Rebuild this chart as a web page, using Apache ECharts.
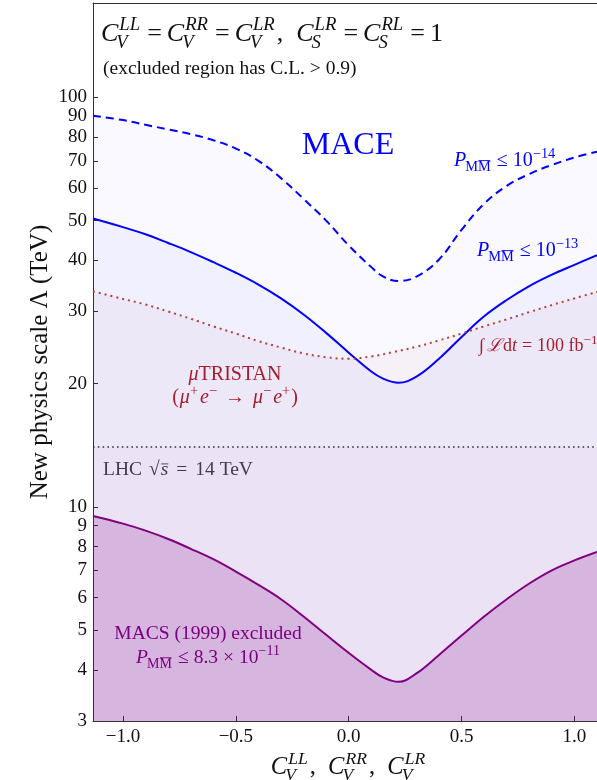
<!DOCTYPE html>
<html><head><meta charset="utf-8">
<script src="https://cdn.jsdelivr.net/npm/echarts@6/dist/echarts.min.js"></script>
<style>html,body{margin:0;padding:0;background:#fff}#c{width:597px;height:780px}</style>
</head><body><div id="c"></div>
<script>
// ---- data ----
const xCoupling = [-1.133,-1.0,-0.9,-0.8,-0.7,-0.6,-0.5,-0.4,-0.3,-0.2,-0.1,0.0,0.1,0.15,0.22,0.3,0.4,0.5,0.6,0.7,0.8,0.9,1.0,1.1];
const maceP14 = [90.2,88,85.7,83.5,81.3,78.6,75,70,63.5,56.5,50,43.5,38.5,36.6,35.6,36.5,40.2,47.5,55,60.8,65,68.4,71.3,73.7];
const maceP13 = [50.6,48.2,46.3,44.1,41.9,39.6,37.3,34.9,32.3,29.5,26.6,23.8,21.4,20.6,20.1,20.8,23,26,29.2,32,34.6,36.9,39,41.2];
const macsLimit = [9.5,9.1,8.75,8.35,7.9,7.45,6.95,6.45,5.95,5.4,4.87,4.4,4.0,3.84,3.74,3.92,4.35,4.85,5.4,5.95,6.5,7.0,7.4,7.76];
const xTristan = [-1.133,-1.0,-0.9,-0.8,-0.7,-0.6,-0.5,-0.4,-0.3,-0.2,-0.1,0.0,0.1,0.2,0.3,0.4,0.5,0.6,0.7,0.8,0.9,1.0,1.1];
const muTristan = [33.6,32.2,31.2,30.0,28.8,27.6,26.5,25.4,24.5,23.7,23.2,23.0,23.3,23.9,24.6,25.5,26.5,27.6,28.7,29.9,31.1,32.3,33.5];
const lhcScale = 14;
const xTicks = [-1.0,-0.5,0.0,0.5,1.0];
const yTicks = [3,4,5,6,7,8,9,10,20,30,40,50,60,70,80,90,100];
const yLabelsA = [3,4,5,6,7,8,9,10,20,30,40,50,60,70,80,100];
const yLabelsB = [90];
const X_MIN = -1.133, X_MAX = 1.1, Y_MIN = 3, Y_MAX = 170;

const zip = (xs, ys) => xs.map((x, i) => [x, ys[i]]);
const FAM = '"Liberation Serif","Times New Roman",serif';

// ---- math text helper ----
const mctx = document.createElement('canvas').getContext('2d');
function fstr(size, it){ return (it ? 'italic ' : '') + size + 'px ' + FAM; }
function tw(t, f){ mctx.font = f; return mctx.measureText(t).width; }
function mathText(x, base, tokens, fs, color, anchor, ratio){
  const sfs = Math.round(fs * (ratio || 0.72) * 10) / 10;
  const items = []; let cx = 0;
  tokens.forEach(tk => {
    const size = tk.fs || fs;
    const f = fstr(size, tk.it);
    const w = tk.t ? tw(tk.t, f) : 0;
    cx += (tk.pre || 0);
    if (tk.t) items.push({t: tk.t, x: cx, dy: (tk.dy || 0), f, size});
    let sw = 0;
    if (tk.sup){ const sf = fstr(sfs, tk.supIt); const ww = tw(tk.sup, sf); const dx = tk.supDx || 0;
      items.push({t: tk.sup, x: cx + w + dx, dy: -0.42 * fs, f: sf, size: sfs}); sw = Math.max(sw, ww + dx); }
    if (tk.sub){ const sf = fstr(sfs, tk.subIt); const ww = tw(tk.sub, sf); const dx = tk.subDx || 0;
      const it = {t: tk.sub, x: cx + w + dx, dy: 0.24 * fs, f: sf, size: sfs};
      items.push(it); sw = Math.max(sw, ww + dx);
      if (tk.subBar){ const last = tk.sub.slice(-1); const lw = tw(last, sf); const pre = ww - lw;
        it.bar = [cx + w + dx + pre + 0.5, cx + w + dx + ww - 0.5, 0.24 * fs - sfs * 0.78]; }
    }
    if (tk.bar){ items[items.length - 1].bar = [cx + 0.5, cx + w, -size * 0.62]; }
    cx += w + sw + (tk.pad || 0);
  });
  const x0 = anchor === 'center' ? x - cx / 2 : x;
  const els = [];
  items.forEach(it => {
    els.push({type: 'text', x: x0 + it.x, y: base + it.dy - 0.3 * it.size, silent: true,
      style: {text: it.t, font: it.f, fill: color, align: 'left', verticalAlign: 'middle', textAlign: 'left', textVerticalAlign: 'middle'}});
    if (it.bar){ els.push({type: 'line', silent: true, shape: {x1: x0 + it.bar[0], y1: base + it.bar[2], x2: x0 + it.bar[1], y2: base + it.bar[2]}, style: {stroke: color, lineWidth: 0.9}}); }
  });
  return els;
}

const BLUE = '#0000ff', BROWN = '#b22222', PURPLE = '#800080', GREY = '#444';
const P = () => ({t: 'P', it: true, sub: 'MM', subBar: true, subDx: -1, pad: 1});
const CV = (sup) => ({t: 'C', it: true, sup: sup, supIt: true, sub: 'V', subIt: true, subDx: -2, supDx: 1, pad: 2});
const CS = (sup) => ({t: 'C', it: true, sup: sup, supIt: true, sub: 'S', subIt: true, subDx: -2, supDx: 1, pad: 2});
const EQ = (t, s) => ({t: t || '=', pre: s || 5, pad: s || 5});

let g = [];
g = g.concat(mathText(101, 42, [CV('LL'), EQ(), CV('RR'), EQ(), CV('LR'), {t: ',  '}, CS('LR'), EQ(), CS('RL'), EQ(), {t: '1'}], 26, '#111', 'left', 0.72));
g.push({type: 'text', x: 103, y: 69, silent: true, style: {text: '(excluded region has C.L. > 0.9)', font: '19.5px ' + FAM, fill: '#111', align: 'left', verticalAlign: 'middle', textAlign: 'left', textVerticalAlign: 'middle'}});
g.push({type: 'text', x: 348, y: 146, silent: true, style: {text: 'MACE', font: '32px ' + FAM, fill: BLUE, align: 'center', verticalAlign: 'middle', textAlign: 'center', textVerticalAlign: 'middle'}});
g = g.concat(mathText(454, 167, [P(), EQ('≤'), {t: '10', sup: '−14'}], 20, BLUE, 'left'));
g = g.concat(mathText(477, 257, [P(), EQ('≤'), {t: '10', sup: '−13'}], 20, BLUE, 'left'));
g = g.concat(mathText(479, 352, [{t: '∫', pad: 3}, {t: 'ℒ', it: true, pad: 1}, {t: 'd'}, {t: 't', it: true}, EQ(), {t: '100 fb', sup: '−1'}], 18, BROWN, 'left'));
g = g.concat(mathText(235, 381, [{t: 'μ', it: true}, {t: 'TRISTAN'}], 20, BROWN, 'center'));
g = g.concat(mathText(235, 404, [{t: '(', pad: 1}, {t: 'μ', it: true, sup: '+', pad: 2}, {t: 'e', it: true, sup: '−'}, EQ('→', 8), {t: 'μ', it: true, sup: '−', pad: 2}, {t: 'e', it: true, sup: '+', pad: 1}, {t: ')'}], 20, BROWN, 'center'));
g = g.concat(mathText(103, 476, [{t: 'LHC', pad: 7}, {t: '√', pad: 1}, {t: 's', it: true, bar: true}, EQ('=', 8), {t: '14 TeV'}], 19.5, GREY, 'left'));
g = g.concat(mathText(208, 640, [{t: 'MACS (1999) excluded'}], 19.5, PURPLE, 'center'));
g = g.concat(mathText(208, 664, [P(), EQ('≤'), {t: '8.3'}, EQ('×'), {t: '10', sup: '−11'}], 19.5, PURPLE, 'center'));
g = g.concat(mathText(349, 775, [CV('LL'), {t: ',  '}, CV('RR'), {t: ',  '}, CV('LR')], 24.5, '#111', 'center'));

const chart = echarts.init(document.getElementById('c'), null, {renderer: 'canvas'});
const lineSeries = (data, color, type, width, fill, z) => ({
  type: 'line', data, showSymbol: false, symbol: 'none', smooth: 0.4, z,
  lineStyle: {color, width, type}, areaStyle: {color: fill, origin: 'start', opacity: 1}, silent: true
});
const yLabelStyle = {margin: 6, fontFamily: FAM, fontSize: 19, color: '#111', formatter: v => String(Math.round(v)), hideOverlap: false, showMaxLabel: true, showMinLabel: true};
chart.setOption({
  animation: false,
  backgroundColor: '#fff',
  grid: {left: 93, right: 0, top: 3, bottom: 59, show: false},
  xAxis: [{type: 'value', min: X_MIN, max: X_MAX,
    axisLine: {onZero: false, lineStyle: {color: '#333', width: 1}},
    axisTick: {inside: true, length: 5, customValues: xTicks, lineStyle: {color: '#333'}},
    axisLabel: {customValues: xTicks, margin: 7, fontFamily: FAM, fontSize: 19, color: '#111', formatter: v => v.toFixed(1).replace('-', '−')},
    splitLine: {show: false}},
    {type: 'value', position: 'top', min: X_MIN, max: X_MAX,
    axisLine: {onZero: false, lineStyle: {color: '#333', width: 1}},
    axisTick: {show: false}, axisLabel: {show: false}, splitLine: {show: false}}],
  yAxis: [{type: 'log', logBase: 10, min: Y_MIN, max: Y_MAX,
    name: 'New physics scale Λ (TeV)', nameLocation: 'middle', nameRotate: 90, nameGap: 40, nameMoveOverlap: false,
    nameTextStyle: {fontFamily: FAM, fontSize: 25, color: '#111'},
    axisLine: {onZero: false, lineStyle: {color: '#333', width: 1}},
    axisTick: {inside: true, length: 5, customValues: yTicks, lineStyle: {color: '#333'}},
    minorTick: {show: false},
    axisLabel: Object.assign({customValues: yLabelsA}, yLabelStyle),
    splitLine: {show: false}},
    {type: 'log', logBase: 10, min: Y_MIN, max: Y_MAX, position: 'left', offset: 0,
    axisLine: {show: false, onZero: false}, axisTick: {show: false}, minorTick: {show: false},
    axisLabel: Object.assign({customValues: yLabelsB}, yLabelStyle),
    splitLine: {show: false}}],
  series: [
    lineSeries(zip(xCoupling, maceP14), BLUE, [8, 5], 2, 'rgba(0,0,255,0.025)', 2),
    lineSeries(zip(xCoupling, maceP13), BLUE, 'solid', 2, 'rgba(0,0,255,0.035)', 3),
    lineSeries(zip(xTristan, muTristan), '#b5403a', [2, 4], 2, 'rgba(178,34,34,0.035)', 4),
    {type: 'line', data: [[X_MIN, lhcScale], [X_MAX, lhcScale]], showSymbol: false, symbol: 'none', z: 5, silent: true,
      lineStyle: {color: '#333', width: 1.6, type: [1.6, 3.2]}, areaStyle: {color: 'rgba(128,0,128,0.02)', origin: 'start', opacity: 1}},
    lineSeries(zip(xCoupling, macsLimit), PURPLE, 'solid', 2, 'rgba(128,0,128,0.2)', 6)
  ],
  graphic: {elements: g}
});
</script></body></html>
